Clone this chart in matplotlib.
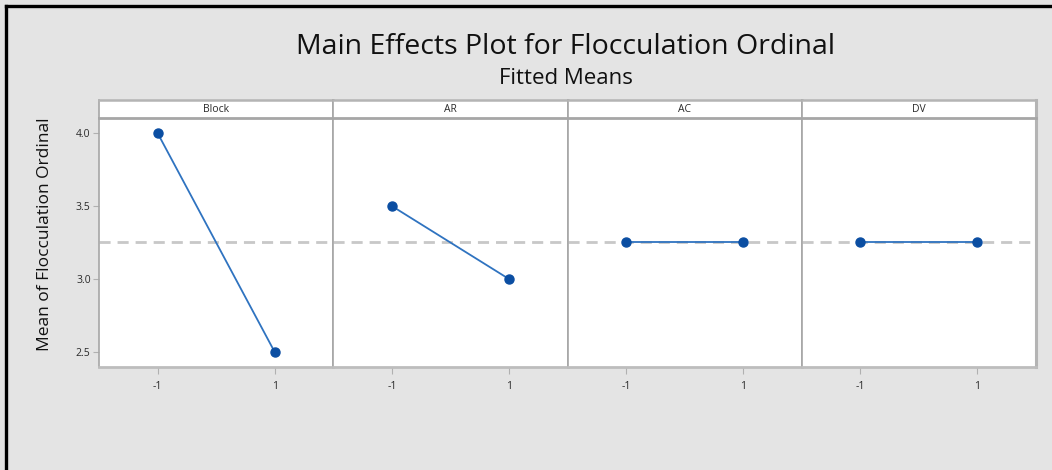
import matplotlib
matplotlib.use("Agg")
import matplotlib.pyplot as plt
from matplotlib.lines import Line2D

plt.rcParams['font.family'] = ['Open Sans', 'DejaVu Sans']

# Fitted means for each factor at its two coded levels
factors = ["Block", "AR", "AC", "DV"]
levels = [-1, 1]
mean_low = [4.0, 3.5, 3.25, 3.25]
mean_high = [2.5, 3.0, 3.25, 3.25]
overall_mean = 3.25
y_ticks = [2.5, 3.0, 3.5, 4.0]
y_tick_labels = ["2.5", "3.0", "3.5", "4.0"]
x_tick_labels = ["-1", "1"]

W, H = 1052, 470
fig = plt.figure(figsize=(W / 100, H / 100), dpi=100)
fig.patch.set_facecolor("#e4e4e4")


def fx(px):
    return px / W


def fy(py):
    return 1 - py / H


# window border (top and left)
fig.add_artist(Line2D([fx(6), 1], [fy(6), fy(6)], color="black", lw=2.4,
                      transform=fig.transFigure))
fig.add_artist(Line2D([fx(6), fx(6)], [fy(6), 0], color="black", lw=2.4,
                      transform=fig.transFigure))

fig.text(fx(566), fy(47), "Main Effects Plot for Flocculation Ordinal",
         ha="center", va="center", fontsize=20.5, color="#111111")
fig.text(fx(566), fy(79), "Fitted Means", ha="center", va="center",
         fontsize=16, color="#111111")

left_px, right_px = 99, 1036
plot_top, plot_bot = 118, 367
strip_top = 100
pw = (right_px - left_px) / len(factors)

frame_col = "#a6a6a6"
line_col = "#2f73c0"
marker_col = "#0b4ea2"
mean_col = "#c8c8c8"
text_col = "#2a2a2a"

for i, name in enumerate(factors):
    x0 = left_px + i * pw
    ax = fig.add_axes([fx(x0), fy(plot_bot), pw / W, (plot_bot - plot_top) / H])
    ax.set_facecolor("white")
    ax.axhline(overall_mean, color=mean_col, lw=2.0, ls=(0, (4, 2.5)), zorder=1)
    ax.plot(levels, [mean_low[i], mean_high[i]], color=line_col, lw=1.3,
            marker="o", ms=6.5, mfc=marker_col, mec=marker_col, zorder=3)
    ax.set_xlim(-2.0, 2.0)
    ax.set_ylim(2.397, 4.103)
    ax.set_xticks(levels)
    ax.set_xticklabels(x_tick_labels, fontsize=7.5, color=text_col)
    ax.tick_params(axis="x", length=5, width=0.8, color="#b0b0b0", pad=5)
    if i == 0:
        ax.set_yticks(y_ticks)
        ax.set_yticklabels(y_tick_labels, fontsize=7.5, color=text_col)
        ax.tick_params(axis="y", length=4, width=0.8, color="#b0b0b0", pad=2)
    else:
        ax.set_yticks([])
    for s in ax.spines.values():
        s.set_color(frame_col)
        s.set_linewidth(1.2)
    if i == len(factors) - 1:
        ax.spines["right"].set_linewidth(2.2)
        ax.spines["right"].set_color("#b4b4b4")
    ax.spines["bottom"].set_linewidth(2.0)
    ax.spines["bottom"].set_color("#bdbdbd")

    # strip header
    sx = fig.add_axes([fx(x0), fy(plot_top), pw / W, (plot_top - strip_top) / H])
    sx.set_facecolor("white")
    sx.set_xticks([])
    sx.set_yticks([])
    for s in sx.spines.values():
        s.set_color(frame_col)
        s.set_linewidth(1.2)
    sx.spines["bottom"].set_linewidth(2.0)
    sx.spines["top"].set_color("#b4b4b4")
    sx.spines["top"].set_linewidth(1.8)
    if i == len(factors) - 1:
        sx.spines["right"].set_linewidth(2.2)
        sx.spines["right"].set_color("#b4b4b4")
    sx.text(0.5, 0.5, name, ha="center", va="center", fontsize=7.5,
            color=text_col, transform=sx.transAxes)

fig.text(fx(45), fy(234), "Mean of Flocculation Ordinal", rotation=90,
         ha="center", va="center", fontsize=12.5, color="#111111")

fig.savefig("out.png", dpi=100, facecolor=fig.get_facecolor())
